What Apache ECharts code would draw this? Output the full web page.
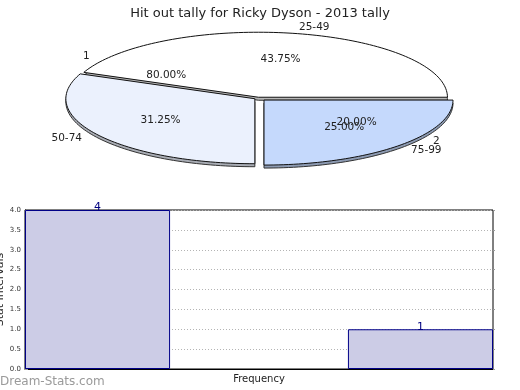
<!DOCTYPE html>
<html><head><meta charset="utf-8">
<script src="https://cdn.jsdelivr.net/npm/echarts@6/dist/echarts.min.js"></script>
<style>html,body{margin:0;padding:0;background:#fff}#c{width:520px;height:390px}</style>
</head><body><div id="c"></div>
<script>
// ---- data ----
const titleText = 'Hit out tally for Ricky Dyson - 2013 tally';
const pieCategories = ['25-49', '50-74', '75-99'];
const pieValues = [7, 5, 4];
const barCategories = ['1', '2'];
const barValues = [4, 1];
const yAxisName = 'Stat Intervals';
const xAxisName = 'Frequency';
const watermarkText = 'Dream-Stats.com';

// ---- style ----
const FONT = 'DejaVu Sans';
const PIE = {cx: 258, cy: 98, rx: 189, ry: 65, depth: 3};
const pieColors = ['#ffffff', '#ebf1fd', '#c5d9fc'];
const wallColors = ['#b8b8b8', '#a8acb4', '#8c9ab2'];
const explodeMain = [0.012, 0.02, 0.045];
const explodeSecond = [0, 0.045];

function sliceGeom(values, i, explode) {
  const total = values.reduce((a, b) => a + b, 0);
  let cum = 0;
  for (let k = 0; k < i; k++) cum += values[k];
  const a0 = cum / total * 2 * Math.PI;
  const a1 = (cum + values[i]) / total * 2 * Math.PI;
  const m = (a0 + a1) / 2;
  const e = explode[i] || 0;
  return {a0, a1, m,
    cx: PIE.cx + e * PIE.rx * Math.cos(m),
    cy: PIE.cy - e * PIE.ry * Math.sin(m),
    pct: values[i] / total * 100};
}
function pt(g, a, r) { return [g.cx + r * PIE.rx * Math.cos(a), g.cy - r * PIE.ry * Math.sin(a)]; }
function sectorPoints(g, dy) {
  const pts = [[g.cx, g.cy + dy]];
  const n = Math.max(4, Math.ceil((g.a1 - g.a0) / (Math.PI / 120)));
  for (let j = 0; j <= n; j++) {
    const a = g.a0 + (g.a1 - g.a0) * j / n;
    const p = pt(g, a, 1);
    pts.push([p[0], p[1] + dy]);
  }
  return pts;
}
function textEl(text, x, y, align, z2) {
  return {type: 'text', z2: z2, style: {text: text, x: x, y: y, fill: '#222',
    font: '10.5px "' + FONT + '"', fontSize: 10.5, fontFamily: FONT,
    align: align, verticalAlign: 'middle', textAlign: align, textVerticalAlign: 'middle'}};
}
function pieRender(values, names, explode, drawSlices) {
  return function (params, api) {
    const i = params.dataIndex;
    const g = sliceGeom(values, i, explode);
    const children = [];
    if (drawSlices) {
      children.push({type: 'polygon', z2: 1, shape: {points: sectorPoints(g, PIE.depth)},
        style: {fill: wallColors[i], stroke: '#333', lineWidth: 1}});
      children.push({type: 'polygon', z2: 5, shape: {points: sectorPoints(g, 0)},
        style: {fill: pieColors[i], stroke: '#111', lineWidth: 1}});
    }
    const ip = pt(g, g.m, 0.6);
    children.push(textEl(g.pct.toFixed(2) + '%', ip[0], ip[1], 'center', 20));
    const op = pt(g, g.m, 1.1);
    const right = Math.cos(g.m) >= 0;
    children.push(textEl(names[i], op[0], op[1], right ? 'left' : 'right', 20));
    return {type: 'group', children: children};
  };
}

const chart = echarts.init(document.getElementById('c'), null, {renderer: 'canvas'});
const barFill = '#ccccE6';
const barBorder = '#000088';
const barLabel = {show: true, position: 'top', distance: -3, color: '#000080', fontSize: 11, fontFamily: FONT};

chart.setOption({
  animation: false,
  backgroundColor: '#ffffff',
  textStyle: {fontFamily: FONT},
  title: {text: titleText, left: 'center', top: 2,
    textStyle: {fontSize: 13, fontWeight: 'normal', color: '#222', fontFamily: FONT}},
  graphic: [{type: 'text', left: 0, bottom: 2,
    style: {text: watermarkText, fill: '#9a9a9a', font: '12px "' + FONT + '"'}}],
  grid: {left: 25, right: 27, top: 210, bottom: 21, show: true, borderColor: '#000', borderWidth: 1,
    containLabel: false, outerBoundsMode: 'none'},
  xAxis: {type: 'category', data: barCategories,
    axisLabel: {show: false}, axisTick: {show: false},
    axisLine: {lineStyle: {color: '#000'}},
    name: xAxisName, nameLocation: 'middle', nameGap: 5, nameMoveOverlap: false,
    nameTextStyle: {fontSize: 10, color: '#222', fontFamily: FONT}},
  yAxis: [{type: 'value', min: 0, max: 4, interval: 0.5,
    axisLabel: {formatter: v => v.toFixed(1), fontSize: 7, color: '#333', margin: 4, fontFamily: FONT},
    axisTick: {show: true, inside: true, length: 3, lineStyle: {color: '#999'}},
    axisLine: {show: true, lineStyle: {color: '#000'}},
    splitLine: {show: true, lineStyle: {type: [1, 2], color: '#b4b4b4'}},
    name: yAxisName, nameLocation: 'middle', nameGap: 19, nameRotate: 90, nameMoveOverlap: false,
    nameTextStyle: {fontSize: 11, color: '#222', fontFamily: FONT}},
   {type: 'value', position: 'right', min: 0, max: 4, interval: 0.5,
    axisLabel: {show: false},
    axisTick: {show: true, inside: false, length: 2, lineStyle: {color: '#999'}},
    axisLine: {show: false}, splitLine: {show: false}}],
  series: [
    {type: 'bar', name: 'a', barWidth: '62%', barGap: '-38.7%',
      data: barValues.map((v, i) => i === 0 ? v : '-'),
      itemStyle: {color: barFill, borderColor: barBorder, borderWidth: 1}, label: barLabel},
    {type: 'bar', name: 'b', barWidth: '62%', barGap: '-38.7%',
      data: barValues.map((v, i) => i === 1 ? v : '-'),
      itemStyle: {color: barFill, borderColor: barBorder, borderWidth: 1}, label: barLabel},
    {type: 'custom', coordinateSystem: 'none', silent: true,
      renderItem: pieRender(pieValues, pieCategories, explodeMain, true),
      data: pieValues.map((v, i) => ({name: pieCategories[i], value: v}))},
    {type: 'custom', coordinateSystem: 'none', silent: true, z: 3,
      renderItem: pieRender(barValues, barCategories, explodeSecond, false),
      data: barValues.map((v, i) => ({name: barCategories[i], value: v}))}
  ]
});
</script>
</body></html>
